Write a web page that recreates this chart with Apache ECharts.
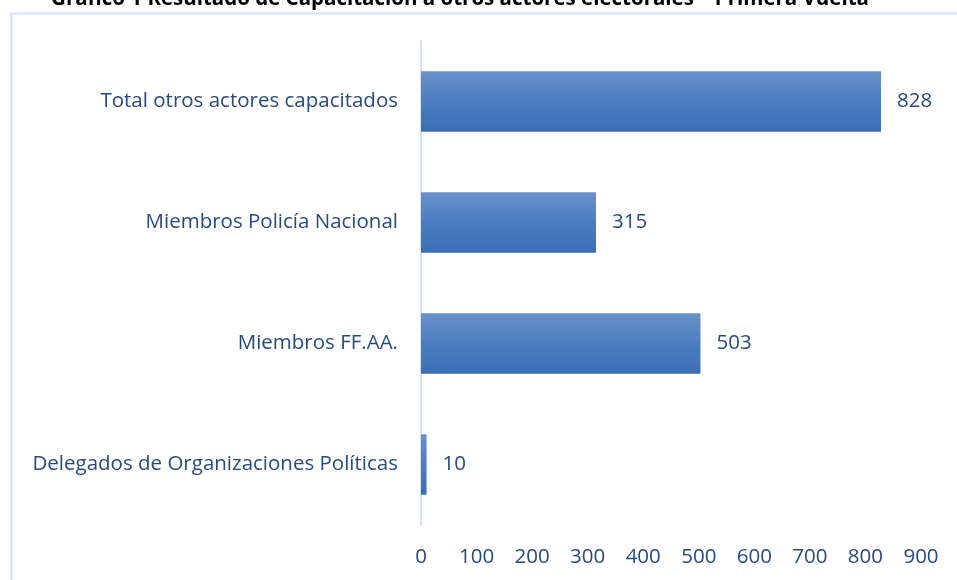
<!DOCTYPE html>
<html>
<head>
<meta charset="utf-8">
<script src="https://cdn.jsdelivr.net/npm/echarts@6/dist/echarts.min.js"></script>
<style>
  html, body { margin: 0; padding: 0; background: #fff; }
  #chart { width: 957px; height: 580px; }
</style>
</head>
<body>
<div id="chart"></div>
<script>
// datos
const categories = [
  'Delegados de Organizaciones Políticas',
  'Miembros FF.AA.',
  'Miembros Policía Nacional',
  'Total otros actores capacitados'
];
const values = [10, 503, 315, 828];

const TXT = '#284B7E';
const FONT = 'Open Sans';
const chart = echarts.init(document.getElementById('chart'), null, { renderer: 'canvas' });

chart.setOption({
  backgroundColor: '#fff',
  animation: false,
  title: {
    text: 'Gráfico 1 Resultado de Capacitación a otros actores electorales – Primera Vuelta',
    left: 455, top: -16, textAlign: 'center',
    textStyle: { color: '#000', fontSize: 20.5, fontWeight: 'bold', fontFamily: FONT }
  },
  graphic: [{
    type: 'rect', left: 9, top: 11, silent: true,
    shape: { width: 960, height: 580 },
    style: { fill: 'none', stroke: '#D6E2F3', lineWidth: 2 }
  }],
  grid: { left: 421, right: 36, top: 41, bottom: 55 },
  xAxis: {
    type: 'value', min: 0, max: 900, interval: 100,
    splitLine: { show: false },
    axisLine: { show: false }, axisTick: { show: false },
    axisLabel: { color: TXT, fontSize: 20.5, margin: 22, fontFamily: FONT }
  },
  yAxis: {
    type: 'category', data: categories,
    axisLine: { show: true, lineStyle: { color: '#D6E2F3', width: 2 } },
    axisTick: { show: false },
    axisLabel: { color: TXT, fontSize: 20.5, margin: 23, fontFamily: FONT }
  },
  series: [{
    type: 'bar', data: values, barWidth: '50%',
    itemStyle: {
      color: new echarts.graphic.LinearGradient(0, 0, 0, 1, [
        { offset: 0, color: '#6A90C9' },
        { offset: 0.5, color: '#4B7EC0' },
        { offset: 1, color: '#3A6DB2' }
      ])
    },
    label: {
      show: true, position: 'right', distance: 16,
      color: TXT, fontSize: 20.5, fontFamily: FONT
    }
  }]
});
</script>
</body>
</html>
